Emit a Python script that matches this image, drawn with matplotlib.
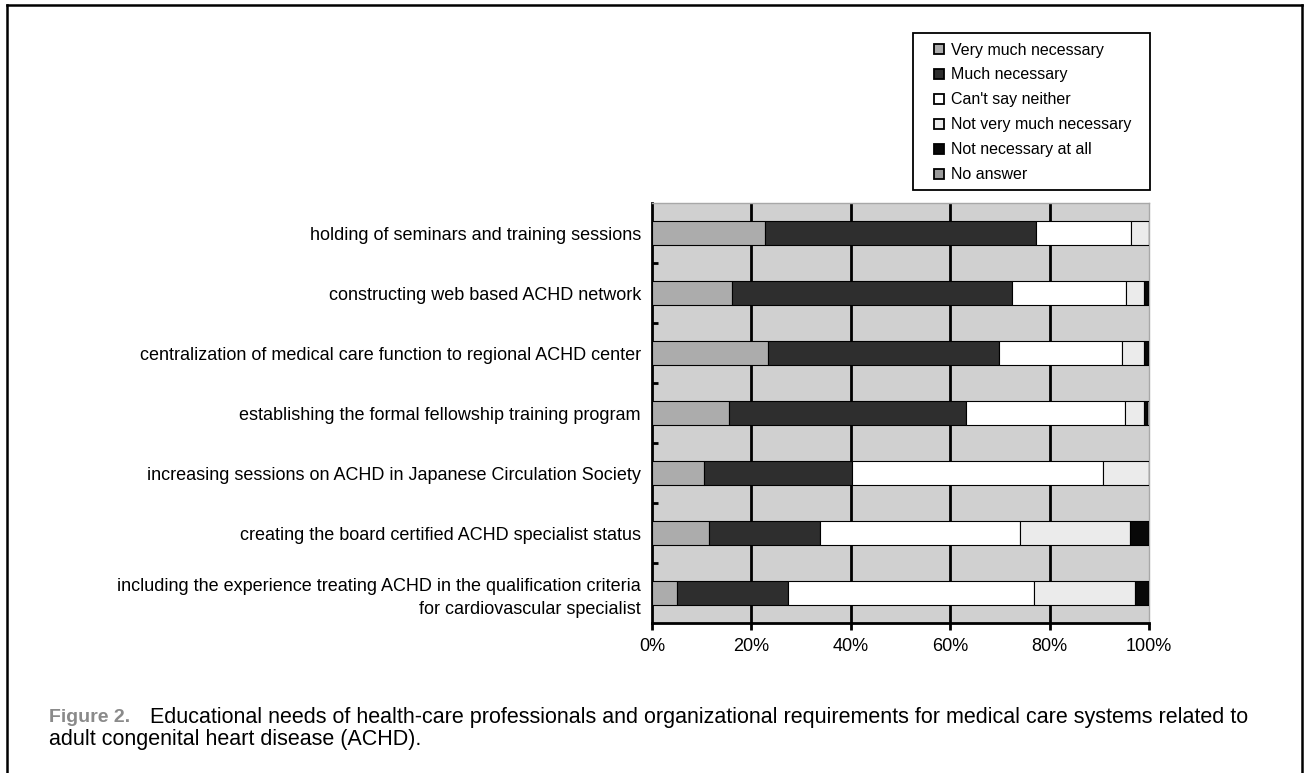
import numpy as np
import matplotlib
matplotlib.use("Agg")
import matplotlib.pyplot as plt
from matplotlib.lines import Line2D
from matplotlib.patches import Rectangle

plt.rcParams["font.family"] = ["Liberation Sans", "DejaVu Sans"]

# ---- data (percent of respondents) ----
items = [
    "holding of seminars and training sessions",
    "constructing web based ACHD network",
    "centralization of medical care function to regional ACHD center",
    "establishing the formal fellowship training program",
    "increasing sessions on ACHD in Japanese Circulation Society",
    "creating the board certified ACHD specialist status",
    "including the experience treating ACHD in the qualification criteria\nfor cardiovascular specialist",
]
responses = ["Very much necessary", "Much necessary", "Can't say neither",
             "Not very much necessary", "Not necessary at all", "No answer"]
very_much = [22.7, 16.0, 23.3, 15.4, 10.5, 11.5, 5.0]
much = [54.5, 56.5, 46.5, 47.7, 29.7, 22.3, 22.3]
cant_say = [19.2, 22.8, 24.8, 32.1, 50.6, 40.2, 49.6]
not_very = [3.6, 3.7, 4.4, 3.8, 9.2, 22.2, 20.3]
not_at_all = [0.0, 1.0, 1.0, 0.5, 0.0, 3.8, 2.8]
no_answer = [0.0, 0.0, 0.0, 0.5, 0.0, 0.0, 0.0]
xticks = [0, 20, 40, 60, 80, 100]

series = [very_much, much, cant_say, not_very, not_at_all, no_answer]
colors = ["#acacac", "#2e2e2e", "#ffffff", "#ebebeb", "#080808", "#9a9a9a"]

W, H = 1305, 773
fig = plt.figure(figsize=(W / 100, H / 100), dpi=100)
ax = fig.add_axes([652 / W, 1 - 623 / H, (1149 - 652) / W, (623 - 203) / H])
ax.set_facecolor("#d0d0d0")

y = np.arange(len(items))
left = np.zeros(len(items))
for vals, col in zip(series, colors):
    v = np.array(vals)
    ax.barh(y, v, left=left, height=0.4, color=col, edgecolor="black",
            linewidth=0.8, zorder=3)
    left += v

ax.set_xlim(0, 100)
ax.set_ylim(len(items) - 0.5, -0.5)
ax.set_xticks(xticks)
ax.set_xticklabels([f"{t}%" for t in xticks], fontsize=13)
ax.set_yticks(y)
ax.set_yticklabels(items, fontsize=13, linespacing=1.45)
ax.set_yticks(np.arange(0.5, len(items) - 0.5, 1), minor=True)
ax.tick_params(axis="y", which="major", length=0, pad=8)
ax.tick_params(axis="y", which="minor", direction="in", length=4, width=2)
ax.tick_params(axis="x", direction="out", length=5, width=2, pad=6)
for v in xticks[1:-1]:
    ax.axvline(v, color="black", lw=2, zorder=1)
for s in ("left", "bottom"):
    ax.spines[s].set_linewidth(2)
for s in ("top", "right"):
    ax.spines[s].set_color("#a8a8a8")
    ax.spines[s].set_linewidth(1)

# legend (frame drawn separately)
handles = [Line2D([], [], ls="none", marker="s", markersize=7,
                  markerfacecolor=c, markeredgecolor="black", markeredgewidth=1.3)
           for c in colors]
fig.legend(handles, responses, loc="upper left",
           bbox_to_anchor=(932.5 / W, 1 - 42.5 / H), borderaxespad=0,
           fontsize=11.5, frameon=False, handlelength=0.8,
           handletextpad=0.35, labelspacing=0.625, borderpad=0)
fig.add_artist(Rectangle((913 / W, 1 - 190 / H), (1150 - 913) / W, (190 - 33) / H,
                         transform=fig.transFigure, fill=False,
                         edgecolor="black", lw=1.3))

# caption
fig.text(49 / W, 1 - 717 / H, "Figure 2.", fontsize=14, fontweight="bold",
         color="#8a8a8a", va="center")
fig.text(150 / W, 1 - 717 / H,
         "Educational needs of health-care professionals and organizational "
         "requirements for medical care systems related to",
         fontsize=15.5, va="center")
fig.text(49 / W, 1 - 740 / H, "adult congenital heart disease (ACHD).",
         fontsize=15.5, va="center")

# outer frame (left, top, right)
fr = dict(color="black", lw=1.8, transform=fig.transFigure)
fig.add_artist(Line2D([7 / W, 7 / W], [0, 1 - 5 / H], **fr))
fig.add_artist(Line2D([7 / W, 1302 / W], [1 - 5 / H, 1 - 5 / H], **fr))
fig.add_artist(Line2D([1302 / W, 1302 / W], [0, 1 - 5 / H], **fr))

fig.savefig("out.png", dpi=100)
